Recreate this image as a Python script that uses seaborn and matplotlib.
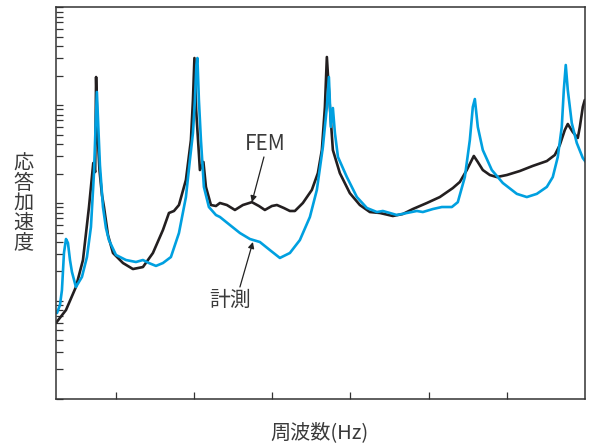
import numpy as np
import pandas as pd
import matplotlib
matplotlib.use("Agg")
import matplotlib.pyplot as plt
import seaborn as sns

# --- データ ---
fem_hz = [2.33, 3.61, 4.88, 5.78, 6.55, 7.10, 7.34, 7.46, 7.63, 7.89, 8.21, 8.47, 8.98,
          9.62, 10.90, 12.17, 13.45, 14.73, 16.01, 16.78, 17.42, 18.06, 18.95, 19.59,
          19.85, 20.04, 20.26, 20.74, 21.19, 21.51, 22.15, 22.79, 23.30, 24.19, 25.22,
          26.24, 27.39, 28.29, 29.05, 29.95, 30.59, 31.48, 32.25, 32.89, 33.91, 35.06,
          35.83, 36.34, 36.73, 36.98, 37.37, 37.75, 38.64, 39.92, 41.20, 42.48, 43.76,
          45.42, 46.70, 47.98, 49.77, 51.43, 53.09, 53.99, 54.88, 55.78, 56.29, 56.93,
          57.83, 58.72, 60.00, 61.66, 63.32, 65.12, 66.14, 66.78, 67.42, 67.80, 68.44,
          69.08, 69.34, 69.72, 69.97]
fem_acc = [5.97, 8.09, 13.9, 26.2, 91.0, 256, 207, 1931, 556, 217, 121, 91.0, 47.1,
           30.9, 24.4, 21.2, 22.2, 30.9, 53.0, 79.1, 82.9, 95.4, 172, 439,
           1125, 3017, 889, 217, 262, 146, 95.4, 93.2, 100, 95.4, 84.9,
           95.4, 102, 93.2, 84.9, 93.2, 95.4, 88.9, 82.9, 82.9, 100, 136,
           202, 347, 954, 3090, 954, 347, 202, 126, 95.4, 80.9, 79.1,
           73.7, 77.2, 86.8, 100, 115, 142, 164, 217, 302, 262, 217,
           193, 184, 193, 212, 239, 268, 309, 391, 556, 640, 530,
           461, 597, 954, 1125]

meas_hz = [2.46, 2.84, 3.09, 3.35, 3.61, 3.86, 4.12, 4.37, 4.88, 5.65, 6.29, 6.80, 7.19,
           7.38, 7.56, 7.76, 7.95, 8.34, 8.72, 9.10, 10.00, 11.28, 12.56, 13.45, 14.22,
           15.12, 16.01, 17.03, 18.06, 18.95, 19.46, 19.85, 20.10, 20.29, 20.42, 20.61,
           20.87, 21.25, 21.89, 22.79, 23.30, 24.58, 25.86, 27.14, 28.41, 29.69, 30.97,
           32.25, 33.53, 34.81, 35.70, 36.47, 36.98, 37.24, 37.49, 37.75, 38.01, 38.40,
           39.54, 40.82, 42.10, 43.38, 44.14, 45.04, 45.93, 47.21, 48.49, 49.26, 50.54,
           51.69, 52.97, 53.73, 54.63, 55.27, 55.65, 55.91, 56.29, 56.93, 58.08, 59.49,
           61.28, 62.56, 63.84, 65.12, 65.88, 66.52, 67.03, 67.29, 67.54, 67.80, 68.31,
           68.95, 69.72, 70.10]
meas_acc = [7.54, 9.10, 12.9, 30.9, 42.9, 39.1, 26.2, 19.8, 13.9, 17.6, 28.1, 56.9, 202,
            556, 1358, 556, 244, 91.0, 55.6, 41.9, 29.5, 26.2, 25.0, 26.2, 24.4,
            22.8, 24.4, 28.1, 49.4, 115, 275, 518, 1125, 2560, 3017, 1125,
            439, 146, 91.0, 75.4, 72.0, 59.6, 49.4, 42.9, 40.0, 33.1, 27.5,
            30.9, 41.9, 72.0, 136, 373, 954, 1931, 597, 932, 518, 295,
            184, 115, 88.9, 80.9, 82.9, 79.1, 75.4, 79.1, 82.9, 80.9, 86.8,
            91.0, 91.0, 102, 184, 439, 954, 1151, 597, 347, 217, 160,
            124, 115, 124, 146, 184, 295, 597, 1422, 2560, 1422, 655,
            410, 288, 262]

x_ticks = [10, 20, 30, 40, 50, 60]

df_fem = pd.DataFrame({'hz': fem_hz, 'acc': fem_acc})
df_meas = pd.DataFrame({'hz': meas_hz, 'acc': meas_acc})

sns.set_style("white")
plt.rcParams['font.family'] = ['Noto Sans CJK JP', 'DejaVu Sans']

fig = plt.figure(figsize=(5.9, 4.47), dpi=100)
ax = fig.add_axes([0.0949, 0.1074, 0.8966, 0.8769])

sns.lineplot(data=df_fem, x='hz', y='acc', color='#231f20', lw=1.9, ax=ax,
             solid_joinstyle='round')
sns.lineplot(data=df_meas, x='hz', y='acc', color='#00a0e0', lw=1.9, ax=ax,
             solid_joinstyle='round')

ax.set_yscale('log')
ax.set_xlim(2.33, 70)
ax.set_ylim(1, 1e4)
ax.set_xticks(x_ticks)
ax.set_xticklabels([])
ax.yaxis.set_minor_formatter(plt.NullFormatter())
ax.yaxis.set_major_formatter(plt.NullFormatter())
ax.tick_params(axis='both', which='both', direction='in', length=5, width=0.9,
               color='#333333', top=False, right=False, left=True, bottom=True)
ax.tick_params(axis='x', which='minor', bottom=False)
for s in ax.spines.values():
    s.set_color('#333333')
    s.set_linewidth(1.1)

ax.set_xlabel('')
ax.set_ylabel('')
fig.text(0.542, 0.033, '周波数(Hz)', ha='center', va='center', fontsize=14.5, color='#3a3a3a')
fig.text(0.039, 0.545, '応\n答\n加\n速\n度', ha='center', va='center', fontsize=14.5,
         color='#3a3a3a', linespacing=0.92)

# 注記
ax.text(29.05, 400, 'FEM', ha='center', va='center', fontsize=15, color='#3a3a3a')
ax.annotate('', xy=(27.39, 102), xytext=(28.93, 295),
            arrowprops=dict(arrowstyle='-|>', color='#222222', lw=0.9, mutation_scale=9,
                            shrinkA=0, shrinkB=0))
ax.text(24.58, 10.2, '計測', ha='center', va='center', fontsize=15, color='#3a3a3a')
ax.annotate('', xy=(27.52, 40.0), xytext=(25.86, 13.9),
            arrowprops=dict(arrowstyle='-|>', color='#222222', lw=0.9, mutation_scale=9,
                            shrinkA=0, shrinkB=0))

fig.savefig('out.png', dpi=100)
